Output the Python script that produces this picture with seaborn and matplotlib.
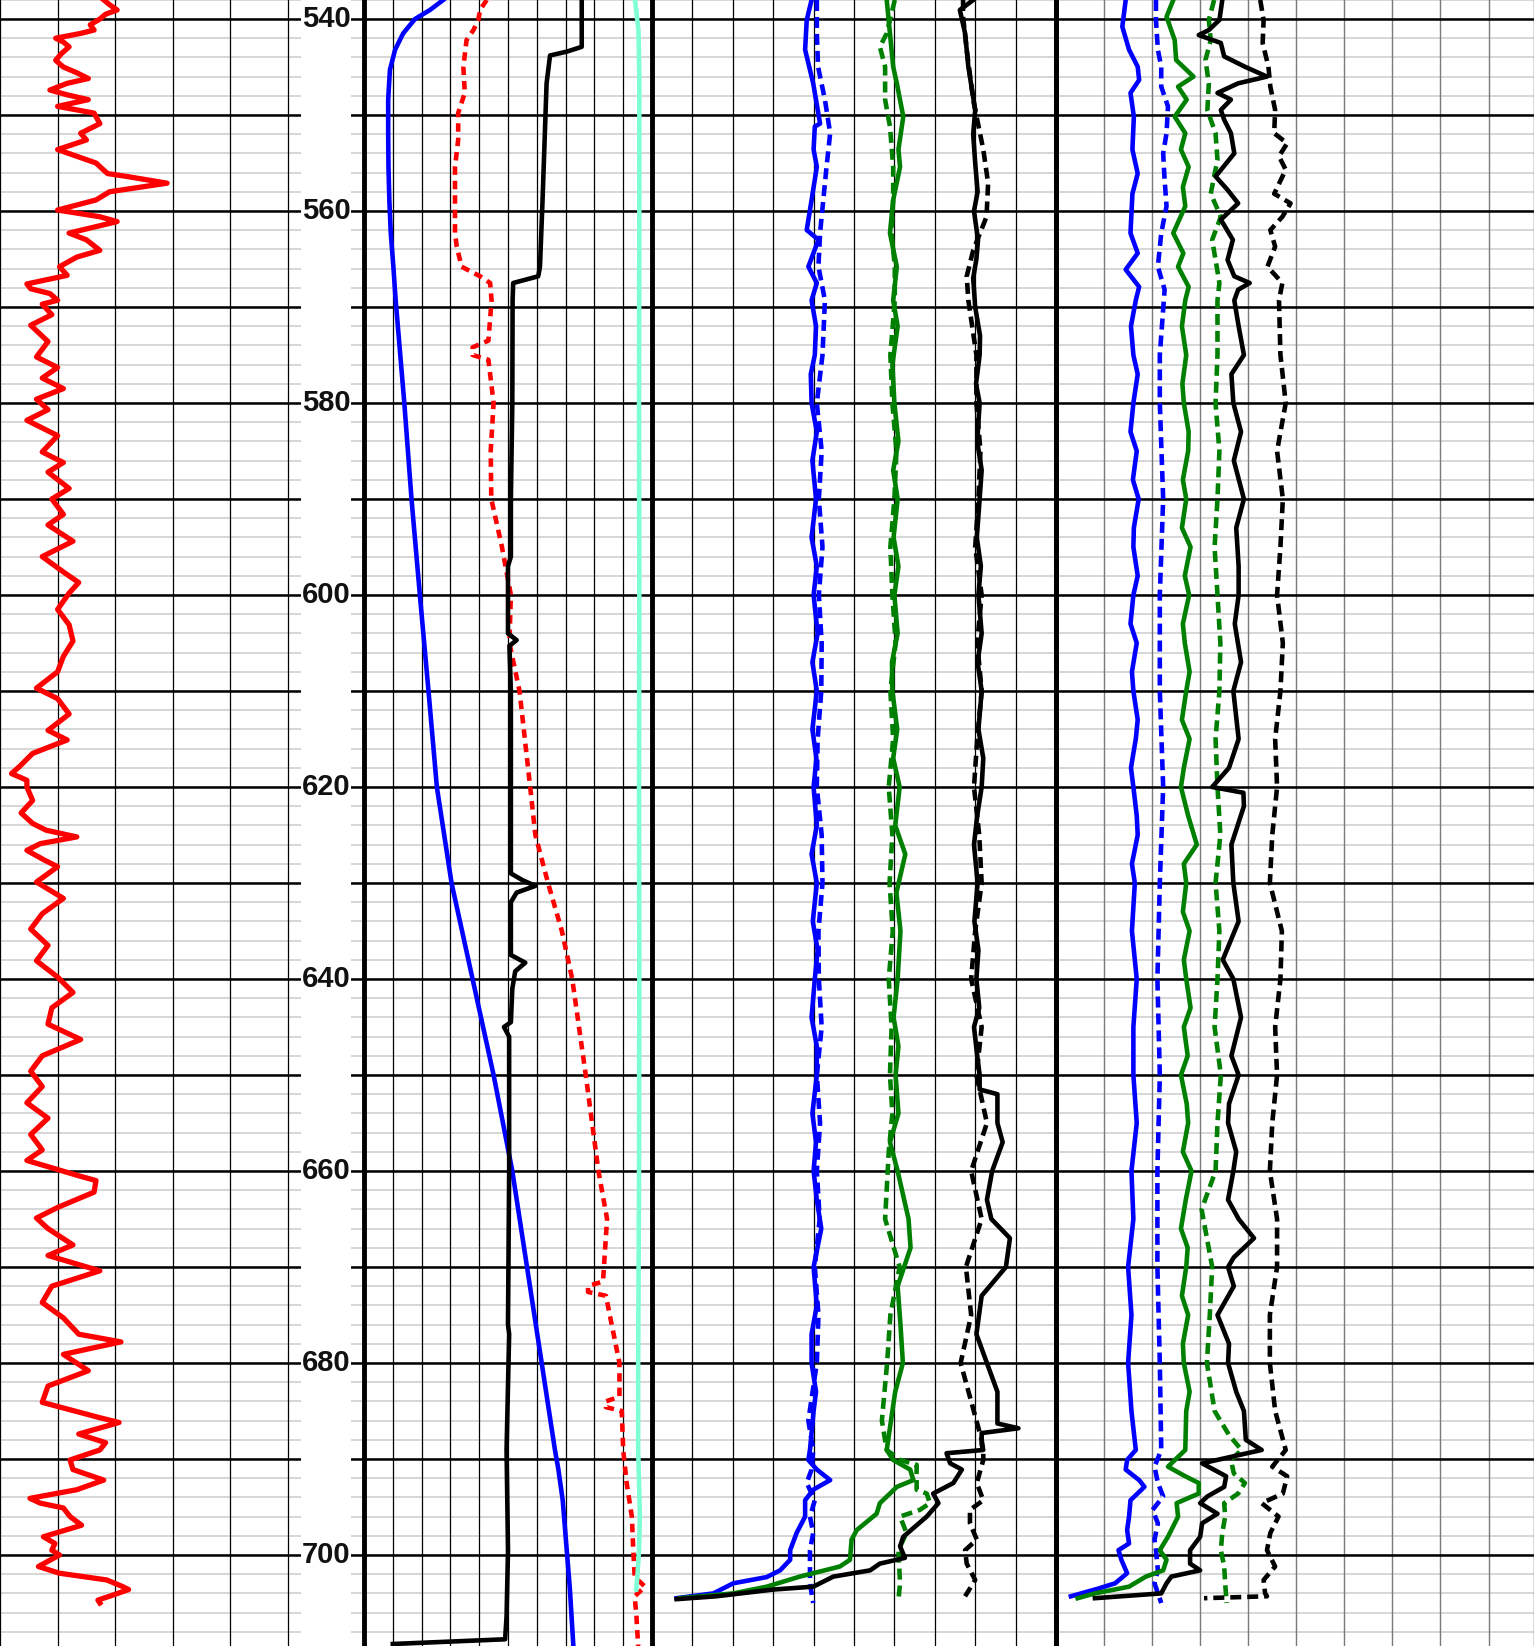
import numpy as np
import pandas as pd
import matplotlib
matplotlib.use("Agg")
import matplotlib.pyplot as plt
import seaborn as sns

plt.rcParams['font.family'] = ['Liberation Sans', 'DejaVu Sans']

# ---------------- data (depth, value) ----------------
depth_labels = [540, 560, 580, 600, 620, 640, 660, 680, 700]

gr_curve = [(538.0, 54), (538.5, 57), (539.06, 61), (539.5, 55), (540.0, 52), (540.6, 47), (541.15, 49),
            (541.5, 42), (542.0, 29), (542.4, 33), (542.9, 36), (543.6, 32), (544.3, 29), (545.0, 33),
            (545.6, 40), (546.2, 46), (546.7, 35), (547.4, 26), (547.9, 35), (548.4, 46), (549.1, 30),
            (549.8, 49), (550.9, 52), (551.9, 42), (552.6, 45), (553.6, 30), (555.0, 50), (556.1, 56),
            (556.4, 66), (557.1, 87), (558.0, 57), (558.85, 50), (559.9, 30), (560.6, 52), (561.1, 61),
            (562.3, 36), (563.0, 45), (564.1, 52), (564.8, 40), (565.8, 31), (566.7, 35), (567.6, 14),
            (568.1, 16), (568.6, 26), (569.3, 30), (569.7, 22), (570.8, 27), (571.9, 16), (573.6, 25),
            (575.2, 19), (576.3, 30), (577.4, 22), (578.5, 33), (579.6, 19), (580.7, 25), (581.8, 14),
            (583.4, 30), (585.1, 22), (586.2, 33), (587.2, 25), (588.9, 36), (590.0, 27), (591.6, 33),
            (592.7, 25), (594.4, 38), (596.0, 22), (597.6, 33), (598.7, 41), (599.8, 36), (601.5, 30),
            (603.1, 36), (604.8, 38), (606.4, 33), (608.0, 30), (609.7, 19), (610.8, 30), (612.4, 36),
            (614.1, 25), (615.1, 35), (616.5, 17), (617.9, 10), (618.6, 6), (619.3, 14), (620.0, 14),
            (621.4, 17), (622.7, 11), (623.8, 17), (624.5, 24), (625.2, 40), (625.9, 21), (626.6, 14),
            (627.6, 23), (628.3, 30), (629.9, 19), (631.6, 33), (633.2, 22), (634.8, 16), (636.5, 25),
            (638.1, 19), (639.8, 30), (641.4, 38), (643.0, 27), (644.7, 25), (646.3, 42), (648.0, 22),
            (649.6, 16), (651.2, 22), (652.9, 14), (654.5, 25), (656.2, 16), (657.8, 22), (658.9, 14),
            (660.5, 41), (661.0, 50), (662.2, 49), (663.8, 30), (664.9, 19), (666.0, 25), (667.7, 38),
            (668.8, 25), (670.4, 52), (672.0, 27), (673.7, 22), (675.3, 33), (677.0, 41), (677.8, 63),
            (679.1, 33), (680.8, 46), (682.4, 25), (684.1, 22), (685.7, 52), (686.2, 62), (687.4, 41),
            (688.3, 55), (689.06, 52), (690.1, 36.5), (691.1, 38), (692.2, 54), (693.2, 40), (694.1, 15.6),
            (694.6, 21), (695.1, 33), (696.0, 36.5), (696.9, 42.5), (698.1, 22.6), (698.8, 28.6),
            (699.5, 27), (700.0, 31), (701.2, 20), (701.9, 31), (702.6, 55.6), (703.3, 64), (703.6, 67),
            (704.3, 57), (704.7, 51), (705.0, 52)]

t2_blue = [(538.02, 2.75), (539.06, 2.29), (540.0, 1.77), (541.5, 1.36), (543.2, 1.08), (545.3, 0.9),
           (548.4, 0.84), (551.9, 0.84), (555.4, 0.85), (558.85, 0.88), (562.3, 0.93), (565.8, 1.02),
           (569.3, 1.1), (580, 1.4), (590, 1.65), (600, 1.94), (610, 2.24), (620, 2.53), (630, 3.04),
           (640, 3.77), (650, 4.5), (660, 5.15), (670, 5.66), (680, 6.17), (689.06, 6.63), (691.1, 6.75),
           (694.3, 6.9), (699.5, 7.04), (703.6, 7.15), (709.5, 7.27)]

t2_red = [(538.02, 4.26), (539.06, 4.03), (540.1, 3.97), (541.15, 3.8), (542.2, 3.56), (545.0, 3.45),
          (547.7, 3.5), (549.8, 3.27), (552.6, 3.27), (555.4, 3.16), (558.85, 3.16), (562.3, 3.16),
          (563.7, 3.22), (565.8, 3.39), (566.8, 4.03), (567.5, 4.38), (569.3, 4.43), (573.5, 4.32),
          (574.2, 3.77), (575.0, 3.77), (575.5, 4.32), (580, 4.5), (585, 4.4), (590, 4.42), (595, 4.79),
          (600, 5.1), (605, 5.05), (610, 5.4), (620, 5.77), (625, 5.95), (630, 6.39), (635, 6.87),
          (640, 7.23), (650, 7.7), (660, 8.14), (665, 8.44), (670, 8.33), (671.5, 8.3), (672, 7.78),
          (672.6, 7.78), (673, 8.4), (680, 8.87), (683.5, 8.87), (684, 8.4), (684.6, 8.4), (685, 8.95),
          (689.06, 9.0), (692.5, 9.12), (696.0, 9.3), (699.5, 9.35), (702.3, 9.4), (703.3, 9.76),
          (704.3, 9.4), (706.4, 9.46), (709.5, 9.52)]

t2_black = [(538.02, 7.56), (542.9, 7.56), (543.4, 7.04), (543.8, 6.46), (546.7, 6.34), (551.9, 6.28),
            (558.85, 6.2), (565.8, 6.11), (566.8, 6.05), (567.5, 5.18), (569.3, 5.16), (580, 5.15),
            (590, 5.1), (596, 5.1), (597, 5.0), (604, 5.0), (604.7, 5.3), (605.3, 5.05), (610, 5.1),
            (620, 5.1), (629, 5.1), (629.7, 5.5), (630.3, 5.95), (631, 5.3), (632, 5.1), (637.5, 5.1),
            (638.3, 5.6), (639.2, 5.25), (641, 5.15), (644.5, 5.1), (645, 4.86), (646, 5.04), (660, 5.04),
            (676, 5.0), (677, 5.04), (689.06, 4.95), (699.5, 5.0), (706.4, 4.95), (708.78, 4.9),
            (709.27, 1.0)]

t2_aqua = [(538.02, 9.41), (541.2, 9.53), (546, 9.56), (560, 9.56), (580, 9.55), (600, 9.56), (620, 9.55),
           (640, 9.56), (660, 9.55), (680, 9.52), (689.06, 9.52), (696.0, 9.58), (699.5, 9.55),
           (702.3, 9.49), (703.6, 9.45)]

t3_blue = [(538.02, 3.95), (540.1, 3.83), (543.2, 3.79), (546.7, 3.99), (550.9, 4.16), (551.2, 4.03),
           (553.6, 4.0), (555.4, 4.08), (558.85, 3.95), (561.98, 3.83), (563.0, 4.12), (565.8, 3.87),
           (567.5, 4.08), (569.3, 3.95), (572, 4.06), (575, 4.03), (577, 3.93), (580, 3.95), (583, 4.08),
           (586, 3.97), (590, 4.06), (594, 3.95), (597, 4.08), (600, 4.0), (604, 4.1), (607, 3.97),
           (610, 4.08), (614, 3.97), (617, 4.07), (620, 4.0), (624, 4.08), (627, 3.95), (630, 4.08),
           (634, 3.98), (637, 4.1), (640, 4.03), (644, 3.95), (647, 4.08), (650, 4.08), (654, 3.97),
           (657, 4.06), (660, 4.0), (663, 4.08), (666, 4.19), (670, 4.0), (674, 4.08), (677, 3.95),
           (680, 3.95), (683, 4.06), (685, 4.0), (689.06, 3.91), (690.1, 3.87), (691.1, 4.08),
           (692.2, 4.41), (693.2, 3.99), (694.3, 3.79), (696.0, 3.79), (697.7, 3.58), (699.5, 3.42),
           (700.5, 3.42), (701.6, 3.17), (702.3, 2.84), (702.95, 2.01), (704.0, 1.52), (704.5, 0.61)]

t3_blue_dash = [(538.02, 4.08), (541.5, 4.08), (544.97, 4.11), (548.4, 4.28), (551.9, 4.41), (555.4, 4.32),
                (558.85, 4.24), (562.3, 4.16), (565.8, 4.12), (569.3, 4.28), (575, 4.22), (580, 4.08),
                (585, 4.2), (590, 4.13), (595, 4.22), (600, 4.13), (605, 4.2), (610, 4.19), (615, 4.1),
                (620, 4.08), (625, 4.2), (630, 4.22), (635, 4.12), (640, 4.13), (645, 4.2), (650, 4.08),
                (655, 4.16), (660, 4.08), (665, 4.15), (670, 4.03), (675, 4.12), (680, 4.08), (686, 3.87),
                (689.06, 3.99), (691.1, 3.95), (692.5, 3.83), (694.3, 4.03), (696.0, 3.91), (697.7, 3.99),
                (699.5, 3.91), (701.6, 3.91), (702.95, 3.91), (705.0, 3.99)]

t3_green = [(538.02, 5.81), (541.5, 5.89), (544.97, 5.97), (546.7, 6.06), (550.17, 6.22), (553.6, 6.1),
            (555.4, 6.14), (558.85, 5.97), (562.3, 5.89), (565.8, 6.06), (569.3, 5.97), (572, 6.08),
            (576, 5.95), (580, 6.0), (584, 6.1), (587, 5.97), (590, 6.08), (594, 5.98), (597, 6.1),
            (600, 6.0), (604, 6.08), (607, 5.94), (610, 5.95), (614, 6.07), (617, 5.97), (620, 6.13),
            (624, 6.02), (627, 6.27), (631, 6.05), (635, 6.15), (640, 6.08), (644, 5.98), (647, 6.1),
            (650, 6.03), (654, 6.1), (657, 5.89), (660, 6.08), (665, 6.35), (668, 6.40), (672, 6.08),
            (676, 6.15), (680, 6.21), (683, 6.02), (685, 5.95), (689.06, 5.81), (690.1, 5.97),
            (691.1, 6.39), (692.2, 6.47), (692.9, 6.06), (693.6, 5.89), (694.6, 5.64), (695.7, 5.56),
            (697.4, 5.07), (698.4, 4.94), (700.5, 4.9), (701.2, 4.65), (702.25, 3.66), (703.3, 2.84),
            (704.0, 2.01), (704.5, 0.69)]

t3_green_dash = [(538.02, 6.01), (541.5, 5.81), (542.9, 5.64), (544.97, 5.77), (548.4, 5.77), (551.2, 5.89),
                 (555.4, 5.97), (558.85, 5.97), (562.3, 5.93), (565.8, 6.01), (569.3, 6.01), (575, 5.9),
                 (580, 5.95), (585, 6.05), (590, 6.0), (595, 5.9), (600, 5.95), (605, 6.03), (610, 5.9),
                 (615, 5.97), (620, 5.86), (625, 5.95), (630, 5.88), (635, 5.96), (640, 5.86), (645, 5.93),
                 (650, 5.89), (654, 5.95), (658, 5.86), (665, 5.77), (670, 6.13), (675, 5.9), (680, 5.82),
                 (686, 5.69), (689.06, 5.81), (690.1, 6.14), (690.6, 6.55), (693.2, 6.55), (693.6, 6.8),
                 (694.6, 6.88), (695.3, 6.63), (696.0, 6.14), (697.7, 6.3), (699.5, 6.1), (702.95, 6.14),
                 (704.7, 6.1)]

t3_black = [(538.02, 7.95), (539.06, 7.62), (541.5, 7.75), (544.97, 7.83), (549.48, 8.0), (552, 7.95),
            (555, 8.0), (558, 8.06), (560, 7.97), (563, 8.07), (565, 8.03), (567, 7.95), (570, 8.0),
            (573, 8.12), (575, 8.11), (578, 8.02), (580, 8.11), (584, 8.05), (587, 8.16), (590, 8.11),
            (594, 8.04), (597, 8.14), (600, 8.08), (604, 8.16), (607, 8.06), (610, 8.16), (614, 8.08),
            (617, 8.2), (620, 8.16), (623, 8.05), (626, 7.97), (630, 8.06), (634, 7.98), (637, 8.08),
            (640, 8.03), (643, 8.1), (645, 7.97), (648, 8.05), (650, 8.11), (651.5, 8.11), (652, 8.55),
            (655, 8.55), (657, 8.68), (660, 8.42), (663, 8.29), (665, 8.4), (667, 8.86), (670, 8.76),
            (673, 8.16), (677, 8.03), (680, 8.29), (683, 8.55), (686.3, 8.55), (686.8, 9.07),
            (687.3, 8.16), (688.5, 8.16), (689.06, 8.2), (689.4, 7.29), (690.45, 7.38), (691.1, 7.67),
            (692.5, 7.46), (693.6, 6.96), (694.6, 7.09), (696.0, 6.8), (698.1, 6.22), (699.1, 6.14),
            (700.3, 6.26), (700.9, 5.64), (701.6, 5.4), (702.25, 4.49), (703.3, 3.99), (703.6, 3.0),
            (704.3, 1.6), (704.6, 0.61)]

t3_black_dash = [(538.02, 7.7), (539.76, 7.7), (543.2, 7.79), (548.4, 7.95), (553.6, 8.2), (557.1, 8.32),
                 (560.6, 8.28), (564.1, 7.95), (566.8, 7.79), (569.3, 7.83), (575, 8.03), (580, 8.03),
                 (585, 8.13), (590, 8.08), (595, 8.0), (600, 8.16), (605, 8.05), (610, 8.16), (615, 8.05),
                 (620, 7.97), (625, 8.1), (630, 8.16), (635, 8.0), (640, 7.9), (645, 8.16), (650, 8.03),
                 (655, 8.29), (660, 7.9), (665, 8.16), (670, 7.77), (675, 7.9), (680, 7.64), (684, 7.9),
                 (688, 8.16), (689.06, 8.2), (690.1, 8.2), (692.5, 8.04), (694.3, 8.2), (695.3, 7.87),
                 (696.7, 7.87), (698.4, 8.04), (699.5, 7.75), (700.9, 7.79), (702.6, 8.0), (704.3, 7.75)]

t4_blue = [(538.02, 1.45), (540.8, 1.38), (543.2, 1.52), (544.97, 1.7), (546.35, 1.73), (547.7, 1.55),
           (550.17, 1.62), (553.6, 1.59), (556.1, 1.7), (558.2, 1.59), (562.3, 1.55), (564.4, 1.7),
           (566.1, 1.45), (567.9, 1.73), (569.3, 1.66), (572, 1.56), (575, 1.61), (577, 1.7), (580, 1.61),
           (583, 1.55), (585, 1.68), (588, 1.6), (590, 1.72), (593, 1.62), (595, 1.61), (598, 1.7),
           (600, 1.61), (603, 1.55), (605, 1.68), (608, 1.58), (610, 1.61), (613, 1.7), (615, 1.66),
           (618, 1.56), (620, 1.61), (623, 1.68), (625, 1.7), (628, 1.58), (630, 1.64), (635, 1.58),
           (640, 1.68), (645, 1.61), (650, 1.61), (655, 1.68), (660, 1.57), (665, 1.61), (670, 1.5),
           (675, 1.57), (680, 1.5), (685, 1.57), (689.06, 1.66), (690.1, 1.48), (691.1, 1.45),
           (692.2, 1.73), (692.9, 1.84), (694.3, 1.55), (696.0, 1.52), (697.4, 1.48), (698.8, 1.52),
           (699.5, 1.3), (700.5, 1.36), (701.9, 1.48), (702.95, 1.23), (703.5, 0.88), (704.3, 0.31)]

t4_blue_dash = [(538.02, 2.08), (540.1, 2.08), (543.2, 2.12), (544.97, 2.19), (547.05, 2.19), (549.1, 2.33),
                (551.9, 2.3), (554.0, 2.23), (556.77, 2.26), (559.5, 2.3), (562.3, 2.19), (565.8, 2.12),
                (568.2, 2.26), (575, 2.16), (580, 2.16), (590, 2.23), (600, 2.16), (610, 2.16), (620, 2.23),
                (630, 2.16), (640, 2.11), (650, 2.16), (660, 2.11), (670, 2.11), (680, 2.16), (689.06, 2.19),
                (690.8, 2.05), (692.5, 2.12), (693.9, 2.23), (695.3, 2.01), (696.7, 2.12), (698.4, 2.05),
                (699.5, 2.08), (701.6, 2.12), (702.95, 2.05), (705.0, 2.19)]

t4_green = [(538.02, 2.44), (539.76, 2.3), (542.2, 2.47), (544.27, 2.5), (546.0, 2.86), (547.05, 2.54),
            (548.4, 2.72), (550.17, 2.47), (551.9, 2.69), (553.6, 2.6), (555.4, 2.76), (557.5, 2.64),
            (559.5, 2.69), (562.3, 2.44), (564.4, 2.65), (565.8, 2.54), (567.9, 2.76), (569.3, 2.69),
            (572, 2.62), (575, 2.71), (578, 2.63), (580, 2.66), (583, 2.76), (585, 2.75), (588, 2.64),
            (590, 2.71), (593, 2.62), (595, 2.8), (598, 2.68), (600, 2.77), (603, 2.64), (605, 2.68),
            (608, 2.78), (610, 2.71), (613, 2.62), (615, 2.78), (618, 2.66), (620, 2.6), (623, 2.75),
            (626, 2.93), (628, 2.66), (630, 2.71), (633, 2.64), (635, 2.78), (638, 2.66), (640, 2.71),
            (643, 2.8), (645, 2.66), (648, 2.74), (650, 2.6), (653, 2.72), (655, 2.75), (658, 2.64),
            (660, 2.82), (663, 2.7), (666, 2.6), (668, 2.74), (670, 2.71), (673, 2.62), (675, 2.75),
            (678, 2.64), (680, 2.66), (683, 2.78), (685, 2.71), (689.06, 2.69), (690.8, 2.33),
            (691.8, 2.69), (692.5, 2.97), (693.6, 2.97), (694.6, 2.51), (696.0, 2.54), (698.1, 2.33),
            (699.5, 2.16), (700.5, 2.3), (701.6, 2.23), (702.25, 1.87), (703.3, 1.52), (704.0, 0.81),
            (704.5, 0.45)]

t4_green_dash = [(538.02, 3.29), (540.1, 3.18), (542.2, 3.22), (544.27, 3.11), (546.7, 3.18), (549.48, 3.15),
                 (551.9, 3.32), (554.7, 3.36), (556.4, 3.29), (558.2, 3.22), (560.6, 3.43), (563.0, 3.25),
                 (565.1, 3.32), (567.5, 3.4), (569.3, 3.36), (575, 3.36), (580, 3.32), (585, 3.4),
                 (590, 3.36), (595, 3.3), (600, 3.36), (605, 3.42), (610, 3.4), (615, 3.32), (620, 3.36),
                 (625, 3.42), (630, 3.32), (635, 3.4), (640, 3.36), (645, 3.3), (650, 3.43), (655, 3.36),
                 (660, 3.32), (664, 3.03), (670, 3.25), (675, 3.2), (680, 3.14), (685, 3.3), (687.5, 3.6),
                 (689.06, 3.86), (690.1, 3.64), (691.5, 3.7), (692.5, 3.93), (693.6, 3.79), (694.6, 3.5),
                 (696.0, 3.52), (697.7, 3.46), (699.5, 3.43), (701.2, 3.5), (702.95, 3.52), (705.0, 3.55)]

t4_black = [(538.02, 3.46), (540.1, 3.4), (541.15, 3.18), (541.67, 2.97), (542.5, 3.43), (543.9, 3.5),
            (544.97, 3.93), (546.0, 4.39), (546.7, 3.79), (547.7, 3.36), (548.4, 3.64), (549.48, 3.43),
            (550.5, 3.5), (551.9, 3.64), (554.0, 3.71), (556.4, 3.32), (557.8, 3.57), (559.2, 3.79),
            (560.9, 3.43), (563.0, 3.68), (565.1, 3.57), (566.8, 3.71), (567.5, 4.03), (568.2, 3.79),
            (569.3, 3.71), (572, 3.8), (575, 3.91), (577, 3.65), (580, 3.69), (583, 3.85), (586, 3.7),
            (590, 3.91), (593, 3.75), (597, 3.8), (600, 3.8), (603, 3.72), (607, 3.85), (610, 3.69),
            (615, 3.8), (618, 3.6), (620, 3.25), (620.6, 3.9), (622, 3.91), (626, 3.65), (630, 3.69),
            (634, 3.8), (638, 3.47), (640, 3.69), (644, 3.85), (648, 3.65), (650, 3.8), (653, 3.6),
            (655, 3.58), (658, 3.75), (660, 3.69), (663, 3.58), (665, 3.8), (667, 4.12), (669, 3.7),
            (670, 3.58), (672, 3.7), (675, 3.36), (678, 3.6), (680, 3.58), (683, 3.75), (685, 3.91),
            (688, 3.95), (689.06, 4.28), (690.45, 3.04), (691.8, 3.54), (692.9, 3.5), (693.9, 3.15),
            (694.6, 3.0), (695.7, 3.36), (696.7, 3.04), (698.1, 3.0), (699.5, 2.79), (700.9, 2.79),
            (701.6, 3.0), (702.25, 2.4), (702.95, 2.3), (704.0, 2.19), (704.5, 0.81)]

t4_black_dash = [(538.02, 4.25), (540.1, 4.32), (542.5, 4.3), (544.97, 4.42), (547.05, 4.46), (549.48, 4.56),
                 (551.9, 4.54), (552.95, 4.81), (554.3, 4.64), (555.7, 4.78), (558.2, 4.54), (559.2, 4.88),
                 (560.6, 4.71), (561.98, 4.46), (563.7, 4.56), (565.8, 4.4), (567.5, 4.71), (569.3, 4.64),
                 (575, 4.67), (580, 4.78), (585, 4.6), (590, 4.72), (595, 4.67), (600, 4.6), (605, 4.72),
                 (610, 4.67), (615, 4.56), (620, 4.6), (625, 4.5), (630, 4.45), (635, 4.7), (640, 4.67),
                 (645, 4.56), (650, 4.6), (655, 4.5), (660, 4.45), (665, 4.6), (670, 4.6), (675, 4.45),
                 (680, 4.45), (685, 4.56), (689.06, 4.78), (690.8, 4.5), (691.8, 4.81), (693.6, 4.72),
                 (694.6, 4.28), (696.0, 4.63), (697.7, 4.46), (699.5, 4.39), (701.2, 4.56), (702.6, 4.32),
                 (704.0, 4.35), (704.3, 4.39), (704.5, 3.08)]

# ---------------- layout ----------------
W, H = 1534, 1646
TOP, BOT = 538.02, 709.48
fig = plt.figure(figsize=(W / 100, H / 100), dpi=100)
fig.patch.set_facecolor('white')

minor_depths = np.arange(538, 711, 2)
major_depths = np.arange(540, 701, 10)

LW = 3.3
DASH_T = (2.4, 1.3)   # tracks 3/4
DASH_R = (1.85, 1.3)  # red dashed


def make_ax(x0, x1, xlim):
    ax = fig.add_axes([x0 / W, 0, (x1 - x0) / W, 1])
    ax.set_facecolor('none')
    for s in ax.spines.values():
        s.set_visible(False)
    ax.set_xticks([])
    ax.set_yticks([])
    ax.set_xlim(*xlim)
    ax.set_ylim(BOT, TOP)
    return ax


def hgrid(ax):
    for d in minor_depths:
        ax.axhline(d, color='#d3d3d3', lw=1.3, zorder=0.5)
    for d in major_depths:
        ax.axhline(d, color='black', lw=1.8, zorder=1.5)


def vgrid(ax, xs, color='black', lw=0.9):
    for x in xs:
        ax.axvline(x, color=color, lw=lw, zorder=1)


def draw(ax, pairs, color, lw=LW, dash=None):
    df = pd.DataFrame(pairs, columns=['depth', 'value'])
    kw = {}
    if dash is not None:
        kw['linestyle'] = (0, dash)
    sns.lineplot(data=df, x='value', y='depth', sort=False, estimator=None, orient='y',
                 color=color, lw=lw, ax=ax, zorder=3, **kw)
    ax.set_xlabel('')
    ax.set_ylabel('')


# Track 1 (gamma ray)
ax1 = make_ax(0, 301, (0, 156.77))
hgrid(ax1)
vgrid(ax1, [0, 30, 60, 90, 120, 150])
draw(ax1, gr_curve, 'red', lw=3.8)
ax1.set_xlim(0, 156.77); ax1.set_ylim(BOT, TOP)

# Depth track
axd = make_ax(301, 351, (0, 1))
for d in depth_labels:
    axd.text(0.5, d, str(d), ha='center', va='center', fontsize=21, fontweight='bold',
             color='#111111')

# Track 2
ax2 = make_ax(351, 652, (-0.451, 10))
hgrid(ax2)
vgrid(ax2, range(1, 10))
ax2.axvline(0, color='black', lw=3.5, zorder=2)
draw(ax2, t2_blue, 'blue')
draw(ax2, t2_red, 'red', dash=DASH_R)
draw(ax2, t2_black, 'black')
draw(ax2, t2_aqua, 'aquamarine')
ax2.set_xlim(-0.451, 10); ax2.set_ylim(BOT, TOP)

# Track 3
ax3 = make_ax(652, 1056, (0, 10))
hgrid(ax3)
vgrid(ax3, range(1, 10))
for side in ['left', 'right']:
    ax3.spines[side].set_visible(True)
    ax3.spines[side].set_linewidth(3.5)
    ax3.spines[side].set_zorder(4)
draw(ax3, t3_blue, 'blue')
draw(ax3, t3_blue_dash, 'blue', dash=DASH_T)
draw(ax3, t3_green, 'green')
draw(ax3, t3_green_dash, 'green', dash=DASH_T)
draw(ax3, t3_black, 'black')
draw(ax3, t3_black_dash, 'black', dash=DASH_T)
ax3.set_xlim(0, 10); ax3.set_ylim(BOT, TOP)

# Track 4
ax4 = make_ax(1056, 1534, (0, 9.946))
hgrid(ax4)
vgrid(ax4, range(1, 10), color='#7a7a7a', lw=1.0)
ax4.spines['left'].set_visible(True)
ax4.spines['left'].set_linewidth(3.5)
ax4.spines['left'].set_zorder(4)
ax4.spines['right'].set_visible(True)
ax4.spines['right'].set_linewidth(1.0)
ax4.spines['right'].set_color('#444444')
draw(ax4, t4_blue, 'blue')
draw(ax4, t4_blue_dash, 'blue', dash=DASH_T)
draw(ax4, t4_green, 'green')
draw(ax4, t4_green_dash, 'green', dash=DASH_T)
draw(ax4, t4_black, 'black')
draw(ax4, t4_black_dash, 'black', dash=DASH_T)
ax4.set_xlim(0, 9.946); ax4.set_ylim(BOT, TOP)

fig.savefig('out.png', dpi=100, facecolor='white')
